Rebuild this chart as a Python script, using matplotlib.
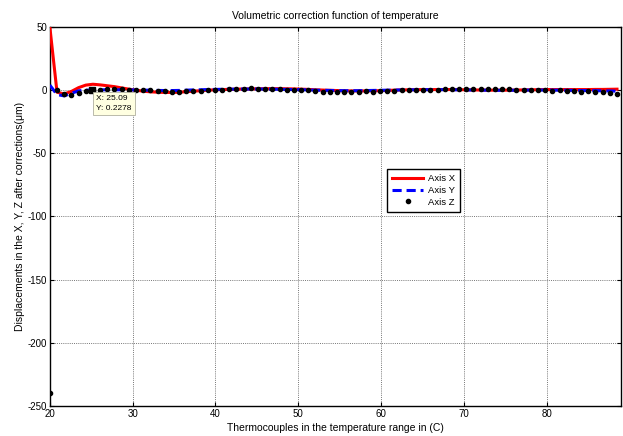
import numpy as np
import matplotlib
matplotlib.use("Agg")
import matplotlib.pyplot as plt

plt.rcParams['font.family'] = ['Liberation Sans', 'DejaVu Sans']
plt.rcParams['axes.unicode_minus'] = False

# temperature samples (thermocouple readings), 80 points from 20 to 88.5 C
temps = np.linspace(20, 88.5, 80)

axis_x = [50, -1.6, -3, -1, 2, 4, 4.7, 4.2, 3.5, 2.8,
          1.8, 0.8, 0, -0.8, -1.3, -1.6, -1.8, -1.8, -1.6, -1.2,
          -0.8, -0.4, 0, 0.3, 0.5, 0.6, 0.8, 0.9, 1.0, 1.1,
          1.2, 1.2, 1.2, 1.1, 1.0, 0.8, 0.6, 0.3, 0.1, -0.1,
          -0.3, -0.5, -0.6, -0.6, -0.6, -0.5, -0.4, -0.2, 0, 0.2,
          0.3, 0.4, 0.5, 0.5, 0.5, 0.5, 0.5, 0.4, 0.3, 0.2,
          0.1, 0, 0, 0, 0, 0.1, 0.2, 0.3, 0.4, 0.5,
          0.5, 0.5, 0.5, 0.5, 0.5, 0.5, 0.6, 0.6, 0.7, 0.8]

axis_y = [4, -3.5, -4.5, -2.5, -0.5, 0, 0.2, 0.3, 0.3, 0.3,
          0.3, 0.2, 0.2, 0, 0, -0.2, -0.3, -0.3, -0.2, 0,
          0.2, 0.3, 0.5, 0.6, 0.7, 0.8, 0.8, 0.9, 0.9, 0.9,
          0.9, 0.8, 0.7, 0.6, 0.5, 0.4, 0.2, 0, -0.1, -0.2,
          -0.3, -0.4, -0.4, -0.4, -0.3, -0.2, -0.1, 0, 0.1, 0.2,
          0.3, 0.3, 0.4, 0.4, 0.4, 0.4, 0.3, 0.3, 0.2, 0.1,
          0, 0, -0.1, -0.1, -0.1, 0, 0, 0.1, 0.1, 0.1,
          0, 0, -0.1, -0.2, -0.3, -0.3, -0.4, -0.5, -0.6, -0.8]

axis_z = [-240, 0, -3, -4, -2, -1, 0.2, 0.5, 0.8, 0.8,
          0.6, 0.5, 0.3, 0.5, 0, -0.5, -1, -1.5, -1.5, -1,
          -0.8, -0.5, 0, 0.2, 0.5, 0.6, 1.0, 1.2, 1.5, 1.2,
          1.0, 1.2, 0.8, 0.5, 0.3, 0, -0.2, -0.8, -1.2, -1.5,
          -1.2, -1.5, -1.2, -1.5, -1.0, -1.2, -0.8, -1.0, -0.5, 0,
          0.2, 0, 0.3, 0.2, 0.5, 0.8, 1.0, 1.2, 1.0, 1.2,
          1.0, 1.2, 0.8, 1.0, 0.8, 0.5, 0.3, 0, 0.2, 0,
          -0.3, 0, -0.5, -0.8, -1.2, -1.0, -1.5, -1.2, -2.5, -3]

datatip_x, datatip_y = 25.09, 0.2278

x_ticks = [20, 30, 40, 50, 60, 70, 80]
y_ticks = [50, 0, -50, -100, -150, -200, -250]

fig = plt.figure(figsize=(6.23, 4.36), dpi=100)
ax = fig.add_axes([0.080, 0.069, 0.917, 0.869])

ax.plot(temps, axis_x, color='#ff0000', linewidth=2.2, label='Axis X', zorder=3)
ax.plot(temps, axis_y, color='#0000ff', linewidth=2.2, linestyle=(0, (3, 1.6)),
        label='Axis Y', zorder=4)
ax.plot(temps, axis_z, linestyle='none', marker='o', markersize=3,
        color='black', label='Axis Z', zorder=5)

# datatip
ax.plot([datatip_x], [datatip_y], marker='s', markersize=5, color='black', zorder=6)
ax.annotate(f'X: {datatip_x}\nY: {datatip_y}', xy=(datatip_x, datatip_y),
            xytext=(3, -4), textcoords='offset points', ha='left', va='top',
            fontsize=6, linespacing=1.5,
            bbox=dict(boxstyle='square,pad=0.4', fc='#ffffe1', ec='#b0b0a0', lw=0.6),
            zorder=7)

ax.set_xlim(20, 89)
ax.set_ylim(-250, 50)
ax.set_xticks(x_ticks)
ax.set_yticks(y_ticks)
ax.tick_params(direction='in', top=True, right=True, labelsize=7, length=3, pad=2)
ax.grid(True, color='#777777', linestyle=(0, (1, 1.2)), linewidth=0.7)
for s in ax.spines.values():
    s.set_linewidth(1.0)

ax.set_title('Volumetric correction function of temperature', fontsize=7.5, pad=5.5)
ax.set_xlabel('Thermocouples in the temperature range in (C)', fontsize=7.5, labelpad=3)
ax.set_ylabel('Displacements in the X, Y, Z after corrections(\u03bcm)', fontsize=7.5, labelpad=2)

leg = ax.legend(loc='upper left', bbox_to_anchor=(0.582, 0.638), fontsize=6.8,
                frameon=True, fancybox=False, edgecolor='black', framealpha=1,
                handlelength=3.3, borderpad=0.55, labelspacing=0.3, handletextpad=0.5)
leg.get_frame().set_linewidth(1.0)

fig.savefig('out.png', dpi=100)
